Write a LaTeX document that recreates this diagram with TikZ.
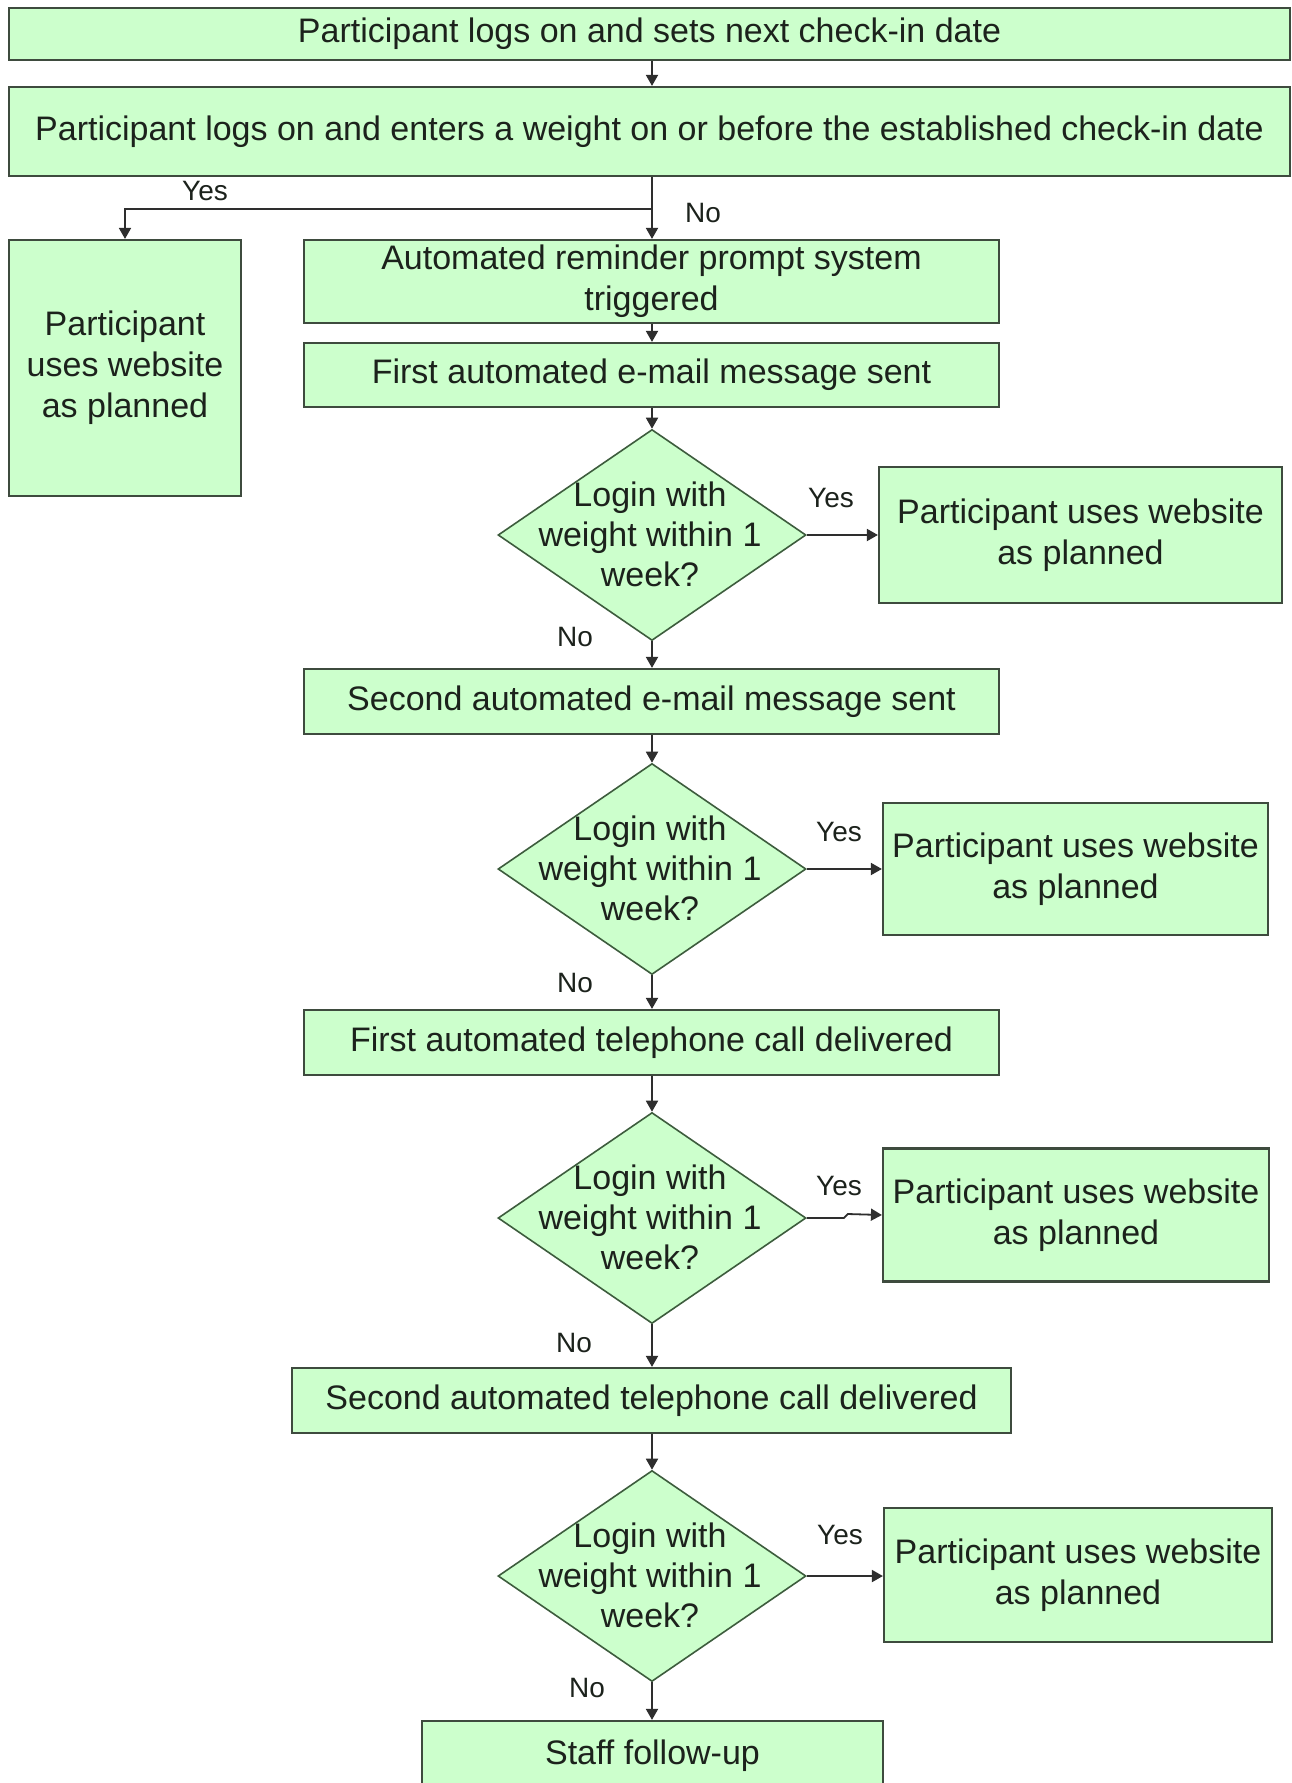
\documentclass[tikz,border=0pt]{standalone}
\usepackage{fontspec}
\setmainfont{Liberation Sans}
\usetikzlibrary{arrows.meta,shapes.geometric}
\definecolor{boxfill}{HTML}{CCFFCC}
\definecolor{boxline}{HTML}{3E4B3E}
\definecolor{dialine}{HTML}{3D5C3D}
\definecolor{wire}{HTML}{2E2E2E}
\definecolor{ink}{HTML}{1C221C}
\begin{document}
\begin{tikzpicture}[x=1pt,y=-1pt,
  stepbox/.style={draw=boxline, line width=2.2pt, fill=boxfill, inner sep=0pt,
    text=ink, font=\fontsize{34}{41}\selectfont, align=center},
  decision/.style={diamond, draw=dialine, line width=1.6pt, fill=boxfill, inner sep=0pt},
  dtext/.style={text=ink, font=\fontsize{34}{40}\selectfont, align=center, inner sep=0pt},
  answer/.style={text=ink, font=\fontsize{28}{32}\selectfont, inner sep=0pt},
  flow/.style={draw=wire, line width=1.8pt, -{Triangle[length=11pt,width=12pt]}},
]
\clip (0,0) rectangle (1292,1783);
\fill[white] (0,0) rectangle (1292,1783);

% main spine of the flow
\coordinate (spine) at (652,0);

% process boxes
\node[stepbox, minimum width=1281pt, minimum height=52pt] (setdate) at (649.5,34)
  {Participant logs on and sets next check-in date};
\node[stepbox, minimum width=1281pt, minimum height=89pt] (checkin) at (649.5,131.5)
  {Participant logs on and enters a weight on or before the established check-in date};
\node[stepbox, minimum width=232pt, minimum height=256pt] (ontime) at (125,368)
  {Participant\\uses website\\as planned};
\node[stepbox, minimum width=695pt, minimum height=83pt] (remind) at (651.5,281.5)
  {Automated reminder prompt system\\triggered};
\node[stepbox, minimum width=695pt, minimum height=64pt] (mail1) at (651.5,375)
  {First automated e-mail message sent};
\node[stepbox, minimum width=695pt, minimum height=65pt] (mail2) at (651.5,701.5)
  {Second automated e-mail message sent};
\node[stepbox, minimum width=695pt, minimum height=65pt] (call1) at (651.5,1042.5)
  {First automated telephone call delivered};
\node[stepbox, minimum width=719pt, minimum height=65pt] (call2) at (651.5,1400.5)
  {Second automated telephone call delivered};
\node[stepbox, minimum width=461pt, minimum height=70pt] (staff) at (652.5,1756)
  {Staff follow-up};

% outcome boxes on the right
\node[stepbox, minimum width=403pt, minimum height=136pt] (use1) at (1080.5,535)
  {Participant uses website\\as planned};
\node[stepbox, minimum width=385pt, minimum height=132pt] (use2) at (1075.5,869)
  {Participant uses website\\as planned};
\node[stepbox, minimum width=386pt, minimum height=133pt] (use3) at (1076,1215)
  {Participant uses website\\as planned};
\node[stepbox, minimum width=388pt, minimum height=134pt] (use4) at (1078,1575)
  {Participant uses website\\as planned};

% decisions
\foreach \k/\y in {1/535, 2/869, 3/1218, 4/1576}{
  \node[decision, minimum width=308pt, minimum height=211pt] (dec\k) at (652,\y) {};
  \node[dtext] (dec\k txt) at (650,\y-1) {Login with\\weight within 1\\week?};
}

% connectors
\coordinate (fork) at (652,209);
\draw[flow] (setdate.south -| spine) -- (checkin.north -| spine);
\draw[flow] (checkin.south -| spine) -- (remind.north -| spine);
\draw[flow] (fork) -| (ontime.north);
\draw[flow] (remind.south -| spine) -- (mail1.north -| spine);
\draw[flow] (mail1.south -| spine) -- (dec1.north);
\draw[flow] (dec1.east) -- (use1.west |- dec1.east);
\draw[flow] (dec1.south) -- (mail2.north -| spine);
\draw[flow] (mail2.south -| spine) -- (dec2.north);
\draw[flow] (dec2.east) -- (use2.west |- dec2.east);
\draw[flow] (dec2.south) -- (call1.north -| spine);
\draw[flow] (call1.south -| spine) -- (dec3.north);
\draw[flow] (dec3.east) -- ++(37,0) -- ++(4,-4) -- (use3.west);
\draw[flow] (dec3.south) -- (call2.north -| spine);
\draw[flow] (call2.south -| spine) -- (dec4.north);
\draw[flow] (dec4.east) -- (use4.west |- dec4.east);
\draw[flow] (dec4.south) -- (staff.north -| spine);

% branch labels
\node[answer] (yes0) at (205,191) {Yes};
\node[answer] (no0) at (703,213) {No};
\node[answer] (yes1) at (831,498) {Yes};
\node[answer] (no1) at (575,637) {No};
\node[answer] (yes2) at (839,832) {Yes};
\node[answer] (no2) at (575,983) {No};
\node[answer] (yes3) at (839,1186) {Yes};
\node[answer] (no3) at (574,1343) {No};
\node[answer] (yes4) at (840,1535) {Yes};
\node[answer] (no4) at (587,1688) {No};
\end{tikzpicture}
\end{document}
